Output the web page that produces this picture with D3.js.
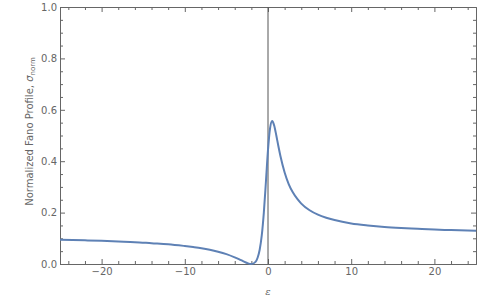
<!DOCTYPE html>
<head>
  <meta charset="utf-8">
  <script src="https://d3js.org/d3.v7.min.js"></script>
  <style>
    body { margin:0; background:#fff; overflow:hidden; }
    svg { display:block; }
    .frame path, .frame line { stroke:#666; }
    .frame text { fill:#666; font-family:"DejaVu Sans", sans-serif; font-size:10px; }
  </style>
</head>
<body>
  <script>
    // values
    var eps   = [-25, -22, -20, -18, -16, -14, -12, -10, -9, -8, -7, -6, -5, -4, -3.5, -3, -2.5, -2, -1.5, -1.25, -1, -0.75, -0.5, -0.25, 0, 0.25, 0.5, 0.75, 1, 1.25, 1.5, 2, 2.5, 3, 3.5, 4, 5, 6, 7, 8, 10, 12, 14, 16, 18, 20, 22, 25];
    var sigma = [0.094, 0.092, 0.090, 0.0875, 0.085, 0.081, 0.077, 0.070, 0.066, 0.0615, 0.0556, 0.048, 0.0385, 0.026, 0.019, 0.011, 0.0038, 0, 0.0085, 0.0244, 0.0556, 0.111, 0.200, 0.320, 0.444, 0.529, 0.556, 0.538, 0.500, 0.458, 0.419, 0.356, 0.310, 0.278, 0.254, 0.235, 0.209, 0.192, 0.180, 0.171, 0.158, 0.150, 0.144, 0.140, 0.137, 0.134, 0.132, 0.129];
    var xTicks = [-20, -10, 0, 10, 20];
    var xMinor = [-24, -22, -18, -16, -14, -12, -8, -6, -4, -2, 2, 4, 6, 8, 12, 14, 16, 18, 22, 24];
    var yTicks = [0, 0.2, 0.4, 0.6, 0.8, 1.0];
    var yMinor = [0.05, 0.1, 0.15, 0.25, 0.3, 0.35, 0.45, 0.5, 0.55, 0.65, 0.7, 0.75, 0.85, 0.9, 0.95];

    var width = 500, height = 300;
    var margin = {top: 7, bottom: 36, left: 60, right: 24};
    var innerWidth = width - margin.left - margin.right;
    var innerHeight = height - margin.top - margin.bottom;

    var svg = d3.select('body').append('svg')
      .attr('width', width).attr('height', height);
    var g = svg.append('g')
      .attr('transform', `translate(${margin.left},${margin.top})`);

    var x = d3.scaleLinear().domain([-25, 25]).range([0, innerWidth]);
    var y = d3.scaleLinear().domain([0, 1]).range([innerHeight, 0]);

    // frame with inward ticks; unlabeled sides get their texts dropped
    function frameAxis(axis, tr, vals, size, fmt, keepDomain) {
      var a = g.append('g').attr('class', 'frame').attr('transform', tr)
        .call(axis.tickValues(vals).tickSize(size).tickPadding(4).tickFormat(fmt || (function(){ return ''; })));
      if (!fmt) a.selectAll('text').remove();
      if (!keepDomain) a.select('.domain').remove();
      return a;
    }
    frameAxis(d3.axisBottom(x), `translate(0,${innerHeight})`, xTicks, -5, d3.format('d'), true);
    frameAxis(d3.axisBottom(x), `translate(0,${innerHeight})`, xMinor, -3);
    frameAxis(d3.axisTop(x), 'translate(0,0)', xTicks, -5, null, true);
    frameAxis(d3.axisTop(x), 'translate(0,0)', xMinor, -3);
    var ly = frameAxis(d3.axisLeft(y), 'translate(0,0)', yTicks, -5, d3.format('.1f'), true);
    ly.selectAll('text').attr('x', -3);
    frameAxis(d3.axisLeft(y), 'translate(0,0)', yMinor, -3);
    frameAxis(d3.axisRight(y), `translate(${innerWidth},0)`, yTicks, -5, null, true);
    frameAxis(d3.axisRight(y), `translate(${innerWidth},0)`, yMinor, -3);

    // vertical axis at eps = 0
    g.append('line')
      .attr('x1', x(0)).attr('x2', x(0))
      .attr('y1', 0).attr('y2', innerHeight)
      .attr('stroke', '#555').attr('stroke-width', 1);

    var pts = eps.map(function(e, i){ return [e, sigma[i]]; });
    var line = d3.line()
      .x(function(d){ return x(d[0]); })
      .y(function(d){ return y(d[1]); })
      .curve(d3.curveMonotoneX);
    g.append('path')
      .datum(pts)
      .attr('d', line)
      .attr('fill', 'none')
      .attr('stroke', '#5e81b5')
      .attr('stroke-width', 2);

    // axis labels
    svg.append('text')
      .attr('x', margin.left + x(0)).attr('y', 295)
      .attr('text-anchor', 'middle')
      .attr('font-family', 'DejaVu Serif, serif').attr('font-style', 'italic')
      .attr('font-size', 10).attr('fill', '#666')
      .text('ε');

    var yl = svg.append('text')
      .attr('transform', 'translate(33,' + (margin.top + innerHeight / 2 - 4) + ') rotate(-90)')
      .attr('text-anchor', 'middle')
      .attr('font-family', 'DejaVu Sans, sans-serif')
      .attr('font-size', 10).attr('fill', '#666');
    yl.append('tspan').text('Normalized Fano Profile, ');
    yl.append('tspan').attr('font-style', 'italic').text('σ');
    yl.append('tspan').attr('font-size', 7).attr('dy', 2).text('norm');
  </script>
</body>
